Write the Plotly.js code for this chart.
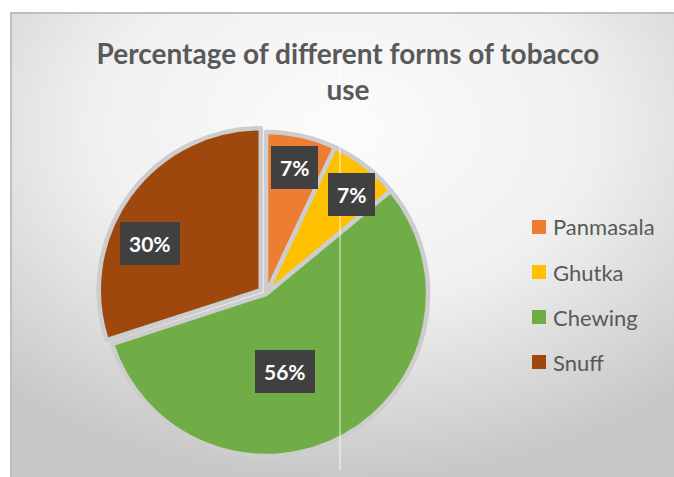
<!DOCTYPE html>
<html>
<head>
<meta charset="utf-8">
<script src="https://cdn.plot.ly/plotly-3.0.1.min.js"></script>
<style>html,body{margin:0;padding:0;background:#fff;}#chart{width:674px;height:477px;}</style>
</head>
<body>
<div id="chart"></div>
<script>
// ---- data ----
var categories = ['Panmasala', 'Ghutka', 'Chewing', 'Snuff'];
var values = [7, 7, 56, 30];
var percentLabels = ['7%', '7%', '56%', '30%'];

// ---- style ----
var colors = ['#ED7D31', '#FFC000', '#70AD47', '#9E480E'];
var pulls = [0, 0, 0, 0.04];
var labelRadius = [0.80, 0.81, 0.49, 0.74];      // fraction of radius for label boxes
var labelAngleShift = [0, 3, 15, -13];          // degrees, label placement tweak

var W = 674, H = 477;
var domX = [0.1447, 0.6447], domY = [0.0304, 0.7369];

var total = values.reduce(function (a, b) { return a + b; }, 0);
var maxPull = Math.max.apply(null, pulls);
var cxPx = (domX[0] + domX[1]) / 2 * W;
var cyPx = (1 - (domY[0] + domY[1]) / 2) * H;
var Rpx = Math.min((domX[1] - domX[0]) * W, (domY[1] - domY[0]) * H) / 2 / (1 + maxPull);

var annotations = [];
var cum = 0;
for (var i = 0; i < values.length; i++) {
  var midFrac = (cum + values[i] / 2) / total;
  cum += values[i];
  var a = (midFrac * 360 + labelAngleShift[i]) * Math.PI / 180;
  var aRaw = midFrac * 2 * Math.PI;
  var px = cxPx + Rpx * labelRadius[i] * Math.sin(a) + Rpx * pulls[i] * Math.sin(aRaw);
  var py = cyPx - Rpx * labelRadius[i] * Math.cos(a) - Rpx * pulls[i] * Math.cos(aRaw);
  annotations.push({
    x: px / W, y: 1 - py / H, xref: 'paper', yref: 'paper',
    xanchor: 'center', yanchor: 'middle',
    text: '<b>' + percentLabels[i] + '</b>', showarrow: false,
    font: {family: 'Lato, sans-serif', size: 21, color: '#ffffff'},
    bgcolor: '#404040', borderpad: 9, bordercolor: 'rgba(0,0,0,0)', borderwidth: 0
  });
}

// manual legend (from categories/colors)
var shapes = [];
var legX = 532, legY0 = 227, legStep = 45, sq = 14;
for (var j = 0; j < categories.length; j++) {
  var yc = legY0 + j * legStep;
  shapes.push({type: 'rect', xref: 'paper', yref: 'paper',
    x0: legX / W, x1: (legX + sq) / W, y0: 1 - (yc - sq / 2) / H, y1: 1 - (yc + sq / 2) / H,
    fillcolor: colors[j], line: {width: 0}});
  annotations.push({x: (legX + sq + 5) / W, y: 1 - yc / H, xref: 'paper', yref: 'paper',
    xanchor: 'left', yanchor: 'middle', showarrow: false, text: categories[j],
    font: {family: 'Lato, sans-serif', size: 22, color: '#595959'}});
}

// frame border + artifact line
shapes.push({type: 'rect', xref: 'paper', yref: 'paper', x0: 11 / W, x1: 1.01, y0: -0.01, y1: 1 - 13 / H,
  line: {color: '#bfbfbf', width: 2}, fillcolor: 'rgba(0,0,0,0)', layer: 'above'});
shapes.push({type: 'line', xref: 'paper', yref: 'paper', x0: 340 / W, x1: 340 / W, y0: 1 - 470 / H, y1: 1 - 60 / H,
  line: {color: 'rgba(255,255,255,0.85)', width: 1}, layer: 'above'});

var bgSvg = '<svg xmlns="http://www.w3.org/2000/svg" width="663" height="464">' +
  '<defs><radialGradient id="g" cx="50%" cy="25%" r="75%">' +
  '<stop offset="0" stop-color="#fcfcfc"/><stop offset="0.5" stop-color="#f0f0f0"/><stop offset="1" stop-color="#c8c8c8"/>' +
  '</radialGradient></defs><rect width="663" height="464" fill="url(#g)"/></svg>';
var bgUri = 'data:image/svg+xml;charset=utf-8,' + encodeURIComponent(bgSvg);

var trace = {
  type: 'pie',
  labels: categories,
  values: values,
  sort: false,
  direction: 'clockwise',
  rotation: 0,
  pull: pulls,
  textinfo: 'none',
  hoverinfo: 'label+percent',
  showlegend: false,
  marker: {colors: colors, line: {color: '#cdcdcd', width: 4.5}},
  domain: {x: domX, y: domY}
};

var layout = {
  width: W, height: H,
  margin: {l: 0, r: 0, t: 0, b: 0},
  paper_bgcolor: '#ffffff',
  showlegend: false,
  title: {
    text: '<b>Percentage of different forms of tobacco<br>use</b>',
    x: 348 / W, xanchor: 'center', xref: 'paper',
    y: 1 - 64 / H, yanchor: 'middle', yref: 'container',
    font: {family: 'Lato, sans-serif', size: 28, color: '#595959'}
  },
  images: [{source: bgUri, xref: 'paper', yref: 'paper', x: 11 / W, y: 1 - 13 / H,
    sizex: 663 / W, sizey: 464 / H, sizing: 'stretch', xanchor: 'left', yanchor: 'top', layer: 'below'}],
  shapes: shapes,
  annotations: annotations
};

Plotly.newPlot('chart', [trace], layout, {displayModeBar: false, staticPlot: true});
</script>
</body>
</html>
